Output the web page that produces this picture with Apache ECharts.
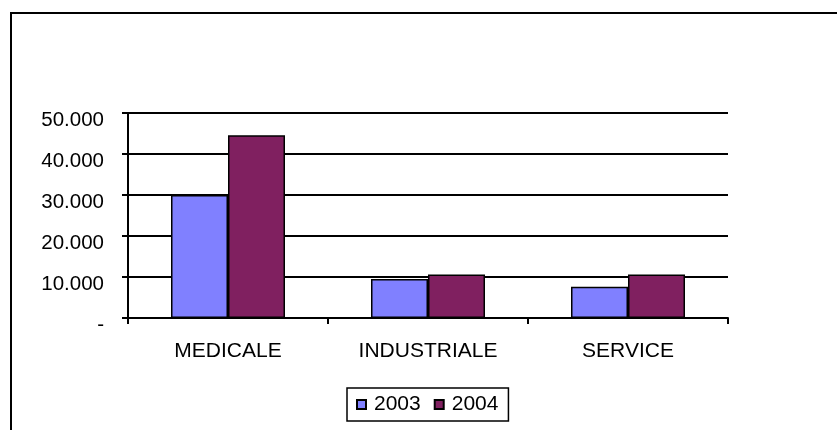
<!DOCTYPE html>
<html>
<head>
<meta charset="utf-8">
<script src="https://cdn.jsdelivr.net/npm/echarts@6/dist/echarts.min.js"></script>
<style>
html, body { margin: 0; padding: 0; background: #fff; }
#chart { width: 837px; height: 430px; }
</style>
</head>
<body>
<div id="chart"></div>
<script>
// sales per sector, 2003 vs 2004
const categories = ['MEDICALE', 'INDUSTRIALE', 'SERVICE'];
const years = ['2003', '2004'];
const values2003 = [30000, 9500, 7600];
const values2004 = [44600, 10600, 10600];
const yTicks = [0, 10000, 20000, 30000, 40000, 50000];

const font = 'Arial, "Liberation Sans", sans-serif';

// 0 -> "-", thousands with a dot (it-IT style)
function fmt(v) {
    if (v === 0) return '-';
    return String(v).replace(/\B(?=(\d{3})+(?!\d))/g, '.');
}

const chart = echarts.init(document.getElementById('chart'));
chart.setOption({
    backgroundColor: '#fff',
    animation: false,
    textStyle: { fontFamily: font, color: '#000' },
    graphic: [{
        // outer chart border, runs off the right and bottom edges
        type: 'rect',
        shape: { x: 11, y: 13, width: 900, height: 500 },
        style: { fill: 'none', stroke: '#000', lineWidth: 2 },
        z: 0
    }],
    legend: {
        data: years,
        left: 347,
        top: 388,
        orient: 'horizontal',
        padding: [6, 10, 6, 9],
        itemGap: 13,
        itemWidth: 9,
        itemHeight: 9,
        icon: 'rect',
        borderColor: '#000',
        borderWidth: 1.5,
        textStyle: { fontFamily: font, fontSize: 21, color: '#000', padding: [0, 0, 0, 3] }
    },
    grid: {
        left: 128,
        right: 109,
        top: 113,
        bottom: 112,
        containLabel: false
    },
    xAxis: {
        type: 'category',
        data: categories,
        boundaryGap: true,
        axisLine: { show: true, lineStyle: { color: '#000', width: 2 } },
        axisTick: { show: true, alignWithLabel: false, length: 6, lineStyle: { color: '#000', width: 2 } },
        axisLabel: { fontFamily: font, fontSize: 21, color: '#000', margin: 23 },
        splitLine: { show: false }
    },
    yAxis: {
        type: 'value',
        min: yTicks[0],
        max: yTicks[yTicks.length - 1],
        interval: yTicks[1] - yTicks[0],
        axisLine: { show: true, lineStyle: { color: '#000', width: 2 } },
        axisTick: { show: true, length: 6, lineStyle: { color: '#000', width: 2 } },
        axisLabel: {
            fontFamily: font, fontSize: 20.5, color: '#000', margin: 24,
            verticalAlign: 'top',
            lineHeight: 15,
            formatter: fmt
        },
        splitLine: { show: true, lineStyle: { color: '#000', width: 2 } }
    },
    series: [
        {
            name: years[0],
            type: 'bar',
            data: values2003,
            barGap: '0%',
            barCategoryGap: '43%',
            itemStyle: { color: '#8080FF', borderColor: '#000', borderWidth: 1.5 }
        },
        {
            name: years[1],
            type: 'bar',
            data: values2004,
            barGap: '0%',
            barCategoryGap: '43%',
            itemStyle: { color: '#802060', borderColor: '#000', borderWidth: 1.5 }
        }
    ]
});
</script>
</body>
</html>
